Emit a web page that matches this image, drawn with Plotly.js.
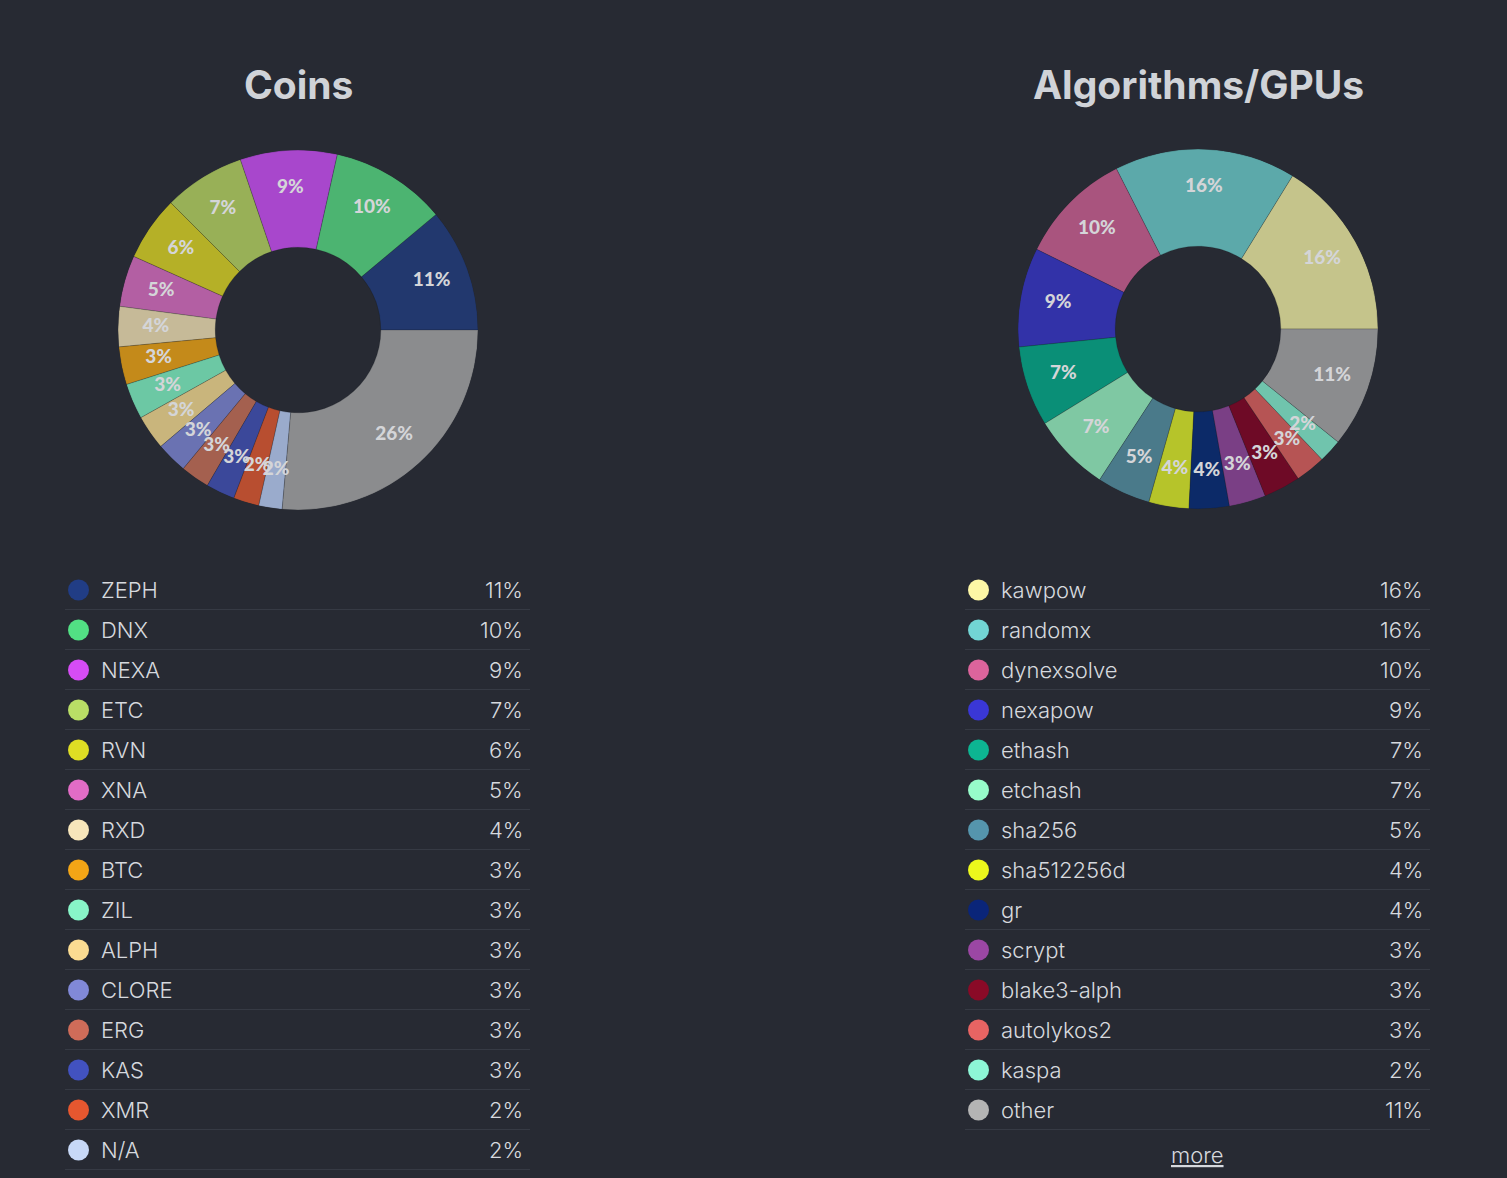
<!DOCTYPE html>
<html>
<head>
<meta charset="utf-8">
<script src="https://cdn.plot.ly/plotly-3.0.1.min.js"></script>
<style>
  html, body { margin: 0; padding: 0; background: #272a33; }
  #chart { width: 1507px; height: 1178px; }
</style>
</head>
<body>
<div id="chart"></div>
<script>
// ---------- DATA ----------
const coinNames = ["ZEPH","DNX","NEXA","ETC","RVN","XNA","RXD","BTC","ZIL","ALPH","CLORE","ERG","KAS","XMR","N/A","other"];
const coinValues = [11.1,10.4,8.7,7.3,5.8,4.6,3.6,3.4,3.2,3.1,2.8,2.6,2.6,2.3,2.1,26.4];
const coinSliceColors = ["#22386e","#4cb471","#a847cc","#98b057","#b5b027","#b35fa3","#c6ba98","#c48a1a","#6cc8a4","#c9b57c","#6a72b2","#a4604f","#3b489a","#b84e30","#9aabcc","#8b8c8e"];
const coinLegendColors = ["#213d85","#52e084","#d64cf5","#b9de66","#dedd24","#e26cc6","#f7e6bb","#f3a516","#88f5c8","#fbdc92","#8189d8","#cf6c59","#4252c0","#e6572f","#c7d8f7"];
const coinLegendCount = 15;

const algoNames = ["kawpow","randomx","dynexsolve","nexapow","ethash","etchash","sha256","sha512256d","gr","scrypt","blake3-alph","autolykos2","kaspa","other"];
const algoValues = [16.2,16.3,10.2,8.9,7.2,7.0,4.8,3.6,3.6,3.3,3.3,2.7,2.1,10.8];
const algoSliceColors = ["#c5c48b","#5ca9aa","#a9547e","#3232a8","#0a8f77","#7fc8a3","#4a7a8a","#b6c42a","#0c2a68","#7a3f85","#6e0a26","#b65454","#70c4ad","#8b8c8e"];
const algoLegendColors = ["#fdf7a6","#72d5d4","#dc649c","#3a37d6","#0db592","#97fcca","#5595ad","#ecf81c","#0a2579","#9b47a4","#8a0a27","#e86463","#8df6d6","#b4b4b4"];
const algoLegendCount = 14;

const titles = ["Coins","Algorithms/GPUs"];
const moreLabel = "more";

// ---------- LAYOUT HELPERS ----------
const W = 1507, H = 1178;
const X = px => px / W;
const Y = py => 1 - py / H;
const BG = "#272a33";
const TXT = "#d6d9de";
const FONT = "Inter, 'Noto Sans', sans-serif";
const HOLE = 0.46;

const pies = [
  {names: coinNames, values: coinValues, colors: coinSliceColors, cx: 298, cy: 330},
  {names: algoNames, values: algoValues, colors: algoSliceColors, cx: 1198, cy: 329}
];
const R = 180;

const traces = [];
const layout = {
  width: W, height: H,
  margin: {l: 0, r: 0, t: 0, b: 0},
  paper_bgcolor: BG, plot_bgcolor: BG,
  showlegend: false,
  font: {family: FONT, color: TXT},
  annotations: [], shapes: []
};

pies.forEach((p, i) => {
  const dom = {x: [X(p.cx - R), X(p.cx + R)], y: [Y(p.cy + R), Y(p.cy - R)]};
  const total = p.values.reduce((a, b) => a + b, 0);
  let cum = 0;
  const theta = [], widths = [], txt = [];
  p.values.forEach(v => {
    theta.push((cum + v / 2) / total * 360);
    widths.push(v / total * 360);
    cum += v;
    txt.push(Math.round(v / total * 100) + "%");
  });
  const pk = i === 0 ? "polar" : "polar2";
  // donut ring
  traces.push({
    type: "barpolar", subplot: pk, theta: theta, width: widths,
    r: p.values.map(() => 1 - HOLE), base: HOLE, text: p.names,
    marker: {color: p.colors, line: {color: "rgba(20,22,28,0.35)", width: 0.6}},
    hoverinfo: "text"
  });
  // percentage labels
  traces.push({
    type: "scatterpolar", mode: "text", subplot: pk,
    r: p.values.map(() => 0.79), theta: theta, text: txt, hoverinfo: "skip",
    textfont: {family: "Lato, " + FONT, size: 19, color: "#d4d5d8", weight: 900}
  });
  layout[pk] = {
    domain: dom, bgcolor: "rgba(0,0,0,0)",
    radialaxis: {range: [0, 1], visible: false, showgrid: false},
    angularaxis: {rotation: 0, direction: "counterclockwise", visible: false, showgrid: false},
    gridshape: "circular"
  };
  layout.annotations.push({
    xref: "paper", yref: "paper", x: X(p.cx), y: Y(84), xanchor: "center", yanchor: "middle",
    text: titles[i], showarrow: false,
    font: {family: FONT, size: 39, color: "#d0d3d8", weight: 700}
  });
});

// legends
function legend(names, values, colors, count, x0, x1, dotX, textX, rightX) {
  const total = values.reduce((a, b) => a + b, 0);
  for (let k = 0; k < count; k++) {
    const cy = 590 + k * 40;
    layout.shapes.push({
      type: "circle", xref: "paper", yref: "paper",
      x0: X(dotX - 10.5), x1: X(dotX + 10.5), y0: Y(cy + 10.5), y1: Y(cy - 10.5),
      fillcolor: colors[k], line: {width: 0}
    });
    layout.shapes.push({
      type: "line", xref: "paper", yref: "paper",
      x0: X(x0), x1: X(x1), y0: Y(cy + 19.5), y1: Y(cy + 19.5),
      line: {color: "#363a44", width: 1}
    });
    layout.annotations.push({
      xref: "paper", yref: "paper", x: X(textX), y: Y(cy), xanchor: "left", yanchor: "middle",
      text: names[k], showarrow: false, font: {family: FONT, size: 22, color: TXT, weight: 300}
    });
    layout.annotations.push({
      xref: "paper", yref: "paper", x: X(rightX), y: Y(cy), xanchor: "right", yanchor: "middle",
      text: Math.round(values[k] / total * 100) + "%", showarrow: false,
      font: {family: FONT, size: 22, color: TXT, weight: 300}
    });
  }
}
legend(coinNames, coinValues, coinLegendColors, coinLegendCount, 65, 530, 78.5, 99, 525);
legend(algoNames, algoValues, algoLegendColors, algoLegendCount, 965, 1430, 978.5, 999, 1425);

layout.annotations.push({
  xref: "paper", yref: "paper", x: X(1197), y: Y(1155), xanchor: "center", yanchor: "middle",
  text: "<u>" + moreLabel + "</u>", showarrow: false, font: {family: FONT, size: 22, color: TXT, weight: 300}
});

Plotly.newPlot("chart", traces, layout, {displayModeBar: false, staticPlot: true});
</script>
</body>
</html>
